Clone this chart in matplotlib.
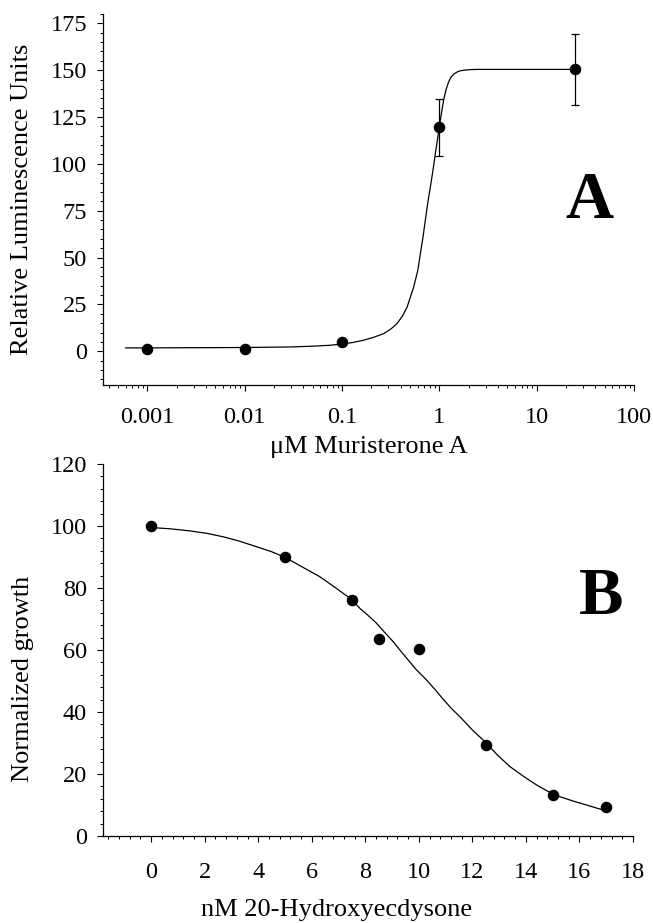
import numpy as np
import matplotlib
matplotlib.use('Agg')
import matplotlib.pyplot as plt
from matplotlib.ticker import MultipleLocator, LogLocator, FixedLocator, FixedFormatter, NullFormatter

plt.rcParams['font.family'] = ['Liberation Serif', 'DejaVu Serif']

# panel A: luminescence vs muristerone A (log scale)
dose_a = [0.001, 0.01, 0.1, 1.0, 25.0]
rlu_a = [1.2, 1.3, 5.0, 119.4, 150.4]
err_a = [0.0, 0.0, 0.0, 15.2, 19.0]
# fitted curve
fit_dose_a = [0.0006, 0.001, 0.01, 0.03, 0.05, 0.076, 0.1, 0.13, 0.167, 0.21, 0.268, 0.32,
              0.368, 0.42, 0.467, 0.545, 0.60, 0.638, 0.68, 0.718, 0.76, 0.809, 0.86, 0.91,
              0.955, 1.0, 1.05, 1.107, 1.17, 1.245, 1.32, 1.40, 1.52, 1.62, 1.75, 1.9,
              2.08, 2.5, 3.3, 25.0]
fit_rlu_a = [1.8, 1.8, 2.0, 2.3, 2.7, 3.2, 3.9, 4.7, 5.9, 7.4, 9.4, 12.0,
             14.8, 19.0, 23.6, 34.3, 43.0, 52.0, 61.0, 70.0, 79.0, 87.7, 96.5, 105.5,
             112.8, 119.7, 127.0, 134.0, 139.5, 143.7, 146.3, 147.8, 149.0, 149.6, 149.9, 150.1,
             150.3, 150.4, 150.4, 150.4]

# panel B: growth vs 20-hydroxyecdysone
dose_b = [0, 5, 7.5, 8.5, 10, 12.5, 15, 17]
growth_b = [100.0, 89.9, 76.2, 63.5, 60.2, 29.5, 13.2, 9.2]
fit_dose_b = [0, 0.7, 1.46, 2.1, 2.7, 3.3, 3.94, 4.5, 5.0, 5.6, 6.31, 6.9, 7.5, 7.8, 8.1,
              8.4, 8.7, 9.04, 9.3, 9.6, 9.9, 10.29, 10.6, 10.9, 11.2, 11.53, 12.0, 12.53,
              12.95, 13.4, 13.9, 14.39, 14.8, 15.26, 15.75, 16.26, 16.6, 16.88, 17.0]
fit_growth_b = [99.5, 99.1, 98.4, 97.6, 96.5, 95.1, 93.3, 91.7, 89.9, 87.0, 83.6, 80.0, 76.2,
                73.4, 71.2, 68.8, 65.9, 62.7, 59.9, 56.8, 53.7, 50.3, 47.3, 44.2, 41.3,
                38.5, 34.2, 29.9, 26.0, 22.4, 19.3, 16.5, 14.5, 12.7, 11.3, 10.0, 9.1, 8.4, 8.2]

FS_TICK = 17.5
FS_LAB = 19

fig = plt.figure(figsize=(6.53, 9.23), dpi=100)
ax1 = fig.add_axes([0.1577, 0.5829, 0.8132, 0.4020])
ax2 = fig.add_axes([0.1577, 0.0943, 0.8116, 0.4030])

for ax in (ax1, ax2):
    ax.spines['top'].set_visible(False)
    ax.spines['right'].set_visible(False)
    for s in ('left', 'bottom'):
        ax.spines[s].set_linewidth(0.9)
    ax.tick_params(which='major', direction='out', length=4.5, width=0.8, labelsize=FS_TICK)
    ax.tick_params(which='minor', direction='out', length=2.3, width=0.7)

# --- panel A
ax1.plot(fit_dose_a, fit_rlu_a, color='black', lw=0.9)
ax1.errorbar(dose_a, rlu_a, yerr=err_a, fmt='o', color='black', ms=7.3,
             ecolor='black', elinewidth=0.9, capsize=3.2, capthick=0.9)
ax1.set_xscale('log')
ax1.set_xlim(0.00035, 100)
ax1.set_ylim(-18, 180)
ax1.xaxis.set_major_locator(FixedLocator([0.001, 0.01, 0.1, 1, 10, 100]))
ax1.xaxis.set_major_formatter(FixedFormatter(['0.001', '0.01', '0.1', '1', '10', '100']))
ax1.xaxis.set_minor_locator(LogLocator(base=10, subs=np.arange(2, 10), numticks=20))
ax1.xaxis.set_minor_formatter(NullFormatter())
ax1.yaxis.set_major_locator(FixedLocator([0, 25, 50, 75, 100, 125, 150, 175]))
ax1.yaxis.set_minor_locator(MultipleLocator(5))
ax1.tick_params(axis='x', which='major', pad=11)
ax1.tick_params(axis='y', which='major', pad=7)
ax1.set_xlabel('μM Muristerone A', fontsize=FS_LAB, va='baseline')
ax1.xaxis.set_label_coords(0.5, -0.1833)
ax1.set_ylabel('Relative Luminescence Units', fontsize=FS_LAB, va='center')
ax1.yaxis.set_label_coords(-0.1516, 0.5)
ax1.text(35, 80, 'A', fontsize=48, fontweight='bold', ha='center', va='center')

# --- panel B
ax2.plot(fit_dose_b, fit_growth_b, color='black', lw=0.9)
ax2.plot(dose_b, growth_b, 'o', color='black', ms=7.3)
ax2.set_xlim(-1.8, 18)
ax2.set_ylim(0, 120)
ax2.xaxis.set_major_locator(FixedLocator(np.arange(0, 19, 2)))
ax2.xaxis.set_minor_locator(MultipleLocator(0.4))
ax2.yaxis.set_major_locator(MultipleLocator(20))
ax2.yaxis.set_minor_locator(MultipleLocator(4))
ax2.tick_params(axis='x', which='major', pad=14)
ax2.tick_params(axis='y', which='major', pad=7)
ax2.set_xlabel('nM 20-Hydroxyecdysone', fontsize=FS_LAB, va='baseline')
ax2.xaxis.set_label_coords(0.4415, -0.215)
ax2.set_ylabel('Normalized growth', fontsize=FS_LAB, va='center')
ax2.yaxis.set_label_coords(-0.1516, 0.423)
ax2.text(16.8, 77, 'B', fontsize=48, fontweight='bold', ha='center', va='center')

fig.savefig('out.png', dpi=100)
